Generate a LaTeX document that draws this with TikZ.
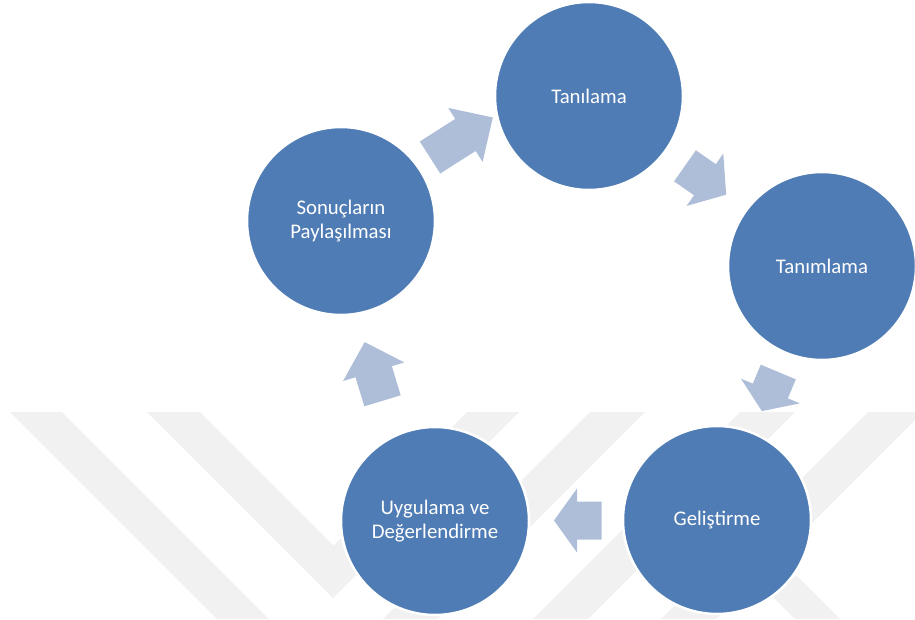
\documentclass[tikz,border=0pt]{standalone}
\usepackage{fontspec}
\setmainfont{Carlito}
\definecolor{circfill}{RGB}{79,124,180}
\definecolor{arrfill}{RGB}{174,190,216}
\definecolor{wmgray}{RGB}{241,241,241}
\newcommand{\cyclearrow}[4]{%
  \fill[blockarrow, shift={#1}, rotate=#2]
    (0,-19) -- (#3,-19) -- (#3,-32) -- ({#3+#4},0) -- (#3,32) -- (#3,19) -- (0,19) -- cycle;}
\begin{document}
\begin{tikzpicture}[x=1pt,y=-1pt,
  stage/.style={circle, fill=circfill, draw=white, line width=2.5pt,
    minimum size=188pt, inner sep=0pt, text=white,
    font=\fontsize{20.8}{24.5}\selectfont, align=center},
  wmstripe/.style={fill=wmgray},
  blockarrow/.style={fill=arrfill}]
\useasboundingbox (0,0) rectangle (915,619);
% faint watermark
\begin{scope}
  \clip (0,0) rectangle (915,619);
  \fill[wmstripe] (10,412) -- (62,412) -- (269,619) -- (217,619) -- cycle;
  \fill[wmstripe] (147,412) -- (200,412) -- (333.5,545.5) -- (467,412) -- (519,412) -- (333,598) -- cycle;
  \fill[wmstripe] (590,412) -- (645,412) -- (438,619) -- (383,619) -- cycle;
  \fill[wmstripe] (740,412) -- (795,412) -- (588,619) -- (533,619) -- cycle;
  \fill[wmstripe] (868,412) -- (923,412) -- (716,619) -- (661,619) -- cycle;
  \fill[wmstripe] (752,576) -- (797,576) -- (840,619) -- (795,619) -- cycle;
\end{scope}
% block arrows
\cyclearrow{(430,157.5)}{32.5}{42}{32.5}
\cyclearrow{(685,165.8)}{-35}{24.3}{26}
\cyclearrow{(778.3,372)}{-112.8}{20.6}{21.8}
\cyclearrow{(601.7,520.5)}{180}{24.7}{23}
\cyclearrow{(382.5,400.8)}{106.9}{30.4}{31}
% stages
\node[stage] (tanilama)   at (589,96)  {Tanılama};
\node[stage] (tanimlama)  at (822,266) {Tanımlama};
\node[stage] (gelistirme) at (717,520) {Geliştirme};
\node[stage] (uygulama)   at (435,521) {Uygulama ve\\Değerlendirme};
\node[stage] (sonuclar)   at (341,221) {Sonuçların\\Paylaşılması};
\end{tikzpicture}
\end{document}
